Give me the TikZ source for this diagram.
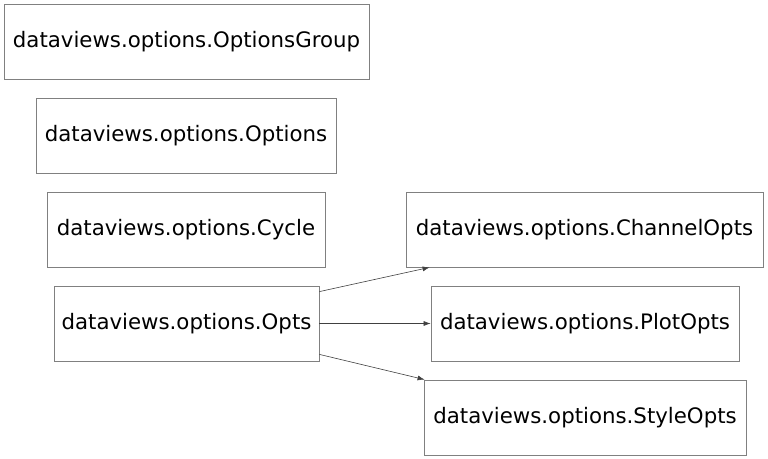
\documentclass[tikz,border=0pt]{standalone}
\usepackage{fontspec}
\setmainfont{DejaVu Sans}
\usepackage{tikz}
\usetikzlibrary{arrows.meta}

\begin{document}
\begin{tikzpicture}[x=1bp,y=-1bp]
    \tikzstyle{every node}=[draw=black!50,line width=0.8bp,minimum height=75bp,inner sep=0pt,font=\fontsize{21.3bp}{25bp}\selectfont]
    \tikzstyle{link}=[-{Latex[length=7bp,width=5bp]},draw=black!75,line width=0.6bp]
    \useasboundingbox (0,0) rectangle (768,459);
    \draw (186.5,41.5) node[minimum width=365bp] (og) {dataviews.options.OptionsGroup};
    \draw (186,135.5) node[minimum width=300bp] (opt) {dataviews.options.Options};
    \draw (186,229.5) node[minimum width=278bp] (cyc) {dataviews.options.Cycle};
    \draw (186.5,323.5) node[minimum width=265bp] (opts) {dataviews.options.Opts};
    \draw (584.5,229.5) node[minimum width=357bp] (chan) {dataviews.options.ChannelOpts};
    \draw (585,323.5) node[minimum width=308bp] (plot) {dataviews.options.PlotOpts};
    \draw (585,417.5) node[minimum width=322bp] (sty) {dataviews.options.StyleOpts};
    \draw[link] ([yshift=-6bp]opts.north east) -- ([xshift=24bp]chan.south west);
    \draw[link] (opts.east) -- (plot.west);
    \draw[link] ([yshift=7bp]opts.south east) -- ([xshift=1bp]sty.north west);
\end{tikzpicture}
\end{document}
